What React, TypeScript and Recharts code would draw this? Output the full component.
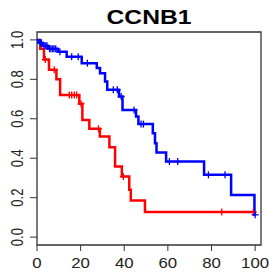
import { ComposedChart, Line, Scatter, XAxis, YAxis, ReferenceArea } from 'recharts';

const title = 'CCNB1';
const xTicks = [0, 20, 40, 60, 80, 100];
const yTicks = [0, 0.2, 0.4, 0.6, 0.8, 1.0];

// red group: event times and survival after each step
const redTimes = [0, 1.5, 3.2, 5.5, 8.9, 10.6, 19.4, 20.8, 24, 28.8, 33.2, 35.8, 38.9, 42.3, 43, 49.5, 99.5];
const redSurv = [1, 0.955, 0.9, 0.848, 0.8, 0.72, 0.676, 0.594, 0.549, 0.51, 0.456, 0.358, 0.307, 0.24, 0.186, 0.127, 0.127];
const redCensored = [3.8, 7.9, 14.8, 15.9, 17.1, 18.2, 20.2, 28.2, 39.6, 84.7, 99.2];

// blue group
const blueTimes = [0, 0.8, 2.5, 5, 9.5, 13.6, 20.5, 27.4, 28.9, 31.2, 32.2, 37.6, 39.2, 45.4, 46.5, 53.1, 54.1, 54.8, 59.2, 76.6, 89, 99.7, 100];
const blueSurv = [1, 0.985, 0.97, 0.955, 0.94, 0.915, 0.882, 0.857, 0.831, 0.789, 0.747, 0.713, 0.645, 0.611, 0.573, 0.527, 0.476, 0.429, 0.383, 0.316, 0.214, 0.113, 0.113];
const blueCensored = [1.5, 2, 3.2, 4, 4.6, 5.8, 6.4, 7.2, 7.8, 8.6, 10.5, 15.9, 18.9, 23.1, 35, 36.8, 38.6, 44.5, 47.7, 48.8, 60.7, 64.5, 78.6, 86.2, 100];

const toSteps = (times: number[], surv: number[]) => times.map((t, i) => ({ t, s: surv[i] }));

const survAt = (times: number[], surv: number[], t: number) => {
  let s = surv[0];
  times.forEach((tt, i) => {
    if (tt <= t) s = surv[i];
  });
  return s;
};

const redLine = toSteps(redTimes, redSurv);
const blueLine = toSteps(blueTimes, blueSurv);
const redMarks = redCensored.map(t => ({ t, s: survAt(redTimes, redSurv, t) }));
const blueMarks = blueCensored.map(t => ({ t, s: survAt(blueTimes, blueSurv, t) }));

const Plus = ({ cx, cy, color }: any) => (
  <g stroke={color} strokeWidth={1.3}>
    <line x1={cx - 3.5} y1={cy} x2={cx + 3.5} y2={cy} />
    <line x1={cx} y1={cy - 3.5} x2={cx} y2={cy + 3.5} />
  </g>
);

const XTick = ({ x, y, payload }: any) => (
  <text
    transform={`translate(${x},${y + 15}) scale(1.12,1)`}
    textAnchor="middle"
    fontSize={15}
    fontFamily="Liberation Sans, Arial"
    fill="#222"
  >
    {payload.value}
  </text>
);

const YTick = ({ x, y, payload }: any) => (
  <text
    transform={`translate(${x - 10.5},${y}) rotate(-90) scale(1,1.25)`}
    textAnchor="middle"
    dominantBaseline="central"
    fontSize={13}
    fontFamily="Liberation Sans, Arial"
    fill="#222"
  >
    {payload.value.toFixed(1)}
  </text>
);

export default function App() {
  return (
    <div style={{ position: 'absolute', left: 0, top: 0, width: 269, height: 275, background: '#fff' }}>
      <svg width={269} height={30} style={{ position: 'absolute', left: 0, top: 0 }}>
        <text
          x={149}
          y={24}
          textAnchor="middle"
          fontSize={20.5}
          fontWeight="bold"
          fontFamily="Liberation Sans, Arial"
          textLength={85}
          lengthAdjust="spacingAndGlyphs"
        >
          {title}
        </text>
      </svg>
      <ComposedChart width={269} height={275} margin={{ top: 32, right: 8, bottom: 0, left: 0 }}>
        <XAxis
          dataKey="t"
          type="number"
          domain={[0, 102.7]}
          allowDataOverflow
          ticks={xTicks}
          height={30}
          tickSize={6}
          axisLine={false}
          tickLine={{ stroke: '#333' }}
          tick={<XTick />}
          interval={0}
        />
        <YAxis
          dataKey="s"
          type="number"
          domain={[-0.04, 1.04]}
          allowDataOverflow
          ticks={yTicks}
          width={37}
          tickSize={7}
          axisLine={false}
          tickLine={{ stroke: '#333' }}
          tick={<YTick />}
          interval={0}
        />
        <ReferenceArea x1={0} x2={102.7} y1={-0.04} y2={1.04} fill="none" stroke="#333" strokeWidth={1.3} />
        <Line data={redLine} dataKey="s" type="stepAfter" stroke="#ff0000" strokeWidth={2.5} dot={false} isAnimationActive={false} />
        <Line data={blueLine} dataKey="s" type="stepAfter" stroke="#0000ff" strokeWidth={2.5} dot={false} isAnimationActive={false} />
        <Scatter data={redMarks} dataKey="s" isAnimationActive={false} shape={(p: any) => <Plus cx={p.cx} cy={p.cy} color="#ff0000" />} />
        <Scatter data={blueMarks} dataKey="s" isAnimationActive={false} shape={(p: any) => <Plus cx={p.cx} cy={p.cy} color="#0000ff" />} />
      </ComposedChart>
    </div>
  );
}
